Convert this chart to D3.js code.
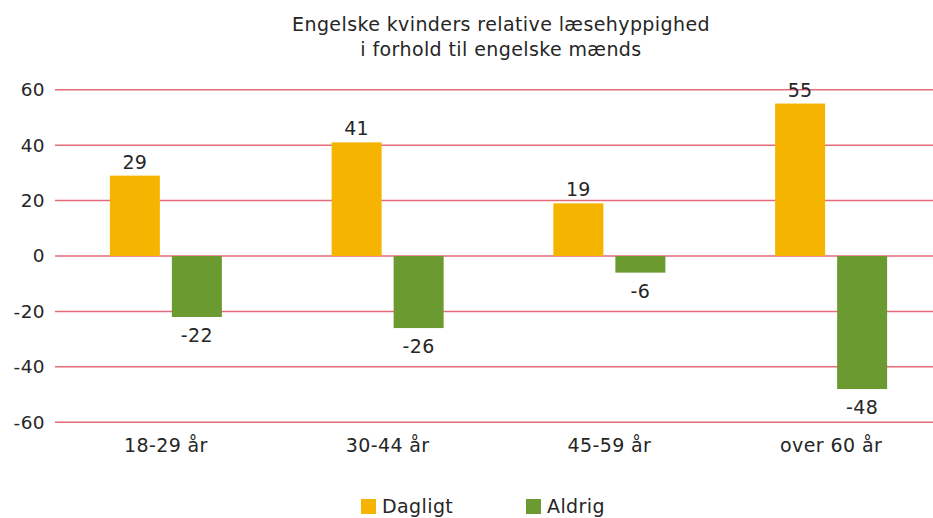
<!DOCTYPE html>
<html>
<head>
<meta charset="utf-8">
<script src="https://cdn.jsdelivr.net/npm/d3@7"></script>
<style>
  body { margin: 0; background: #fff; }
  text { font-family: "DejaVu Sans", sans-serif; fill: #262626; letter-spacing: 0.4px; }
</style>
</head>
<body>
<div id="chart"></div>
<script>
// Data
const categories = ["18-29 år", "30-44 år", "45-59 år", "over 60 år"];
const seriesNames = ["Dagligt", "Aldrig"];
const dagligt = [29, 41, 19, 55];
const aldrig = [-22, -26, -6, -48];
const yTicks = [-60, -40, -20, 0, 20, 40, 60];
const titleLines = ["Engelske kvinders relative læsehyppighed", "i forhold til engelske mænds"];

const colors = { "Dagligt": "#f5b400", "Aldrig": "#6a9a30" };
const font = "'DejaVu Sans', sans-serif";
const fmt = v => v < 0 ? "-" + Math.abs(v) : String(v);

const width = 933, height = 518;
const margin = { top: 90, right: -9, bottom: 96, left: 55 };

const svg = d3.select("#chart")
    .append("svg")
    .attr("width", width)
    .attr("height", height);

// Scales
const x = d3.scaleBand()
    .domain(categories)
    .range([margin.left, width - margin.right]);

const barW = 50, barGap = 12;
const x1 = d3.scaleOrdinal()
    .domain(seriesNames)
    .range([x.bandwidth() / 2 - barW - barGap / 2, x.bandwidth() / 2 + barGap / 2]);

const y = d3.scaleLinear()
    .domain([-60, 60])
    .range([height - margin.bottom + 0.3, margin.top - 0.3]);

// Grid lines
svg.append("g")
    .selectAll("line")
    .data(yTicks)
    .enter().append("line")
    .attr("x1", margin.left)
    .attr("x2", width)
    .attr("y1", d => y(d))
    .attr("y2", d => y(d))
    .attr("stroke", "#e36a78")
    .attr("stroke-width", 1.5);

// Y axis labels
const yAxis = svg.append("g")
    .attr("transform", `translate(${margin.left},0)`)
    .call(d3.axisLeft(y).tickValues(yTicks).tickFormat(fmt).tickSize(0).tickPadding(10));
yAxis.select(".domain").remove();
yAxis.selectAll("text")
    .style("font-family", font)
    .style("font-size", "18.5px")
    .attr("fill", "#262626");

// Bars
const rows = categories.map((c, i) => ({ cat: c, values: [
    { key: "Dagligt", value: dagligt[i] },
    { key: "Aldrig", value: aldrig[i] }
] }));

const groups = svg.append("g")
    .selectAll("g")
    .data(rows)
    .enter().append("g")
    .attr("transform", d => `translate(${x(d.cat)},0)`);

groups.selectAll("rect")
    .data(d => d.values)
    .enter().append("rect")
    .attr("x", d => x1(d.key))
    .attr("width", barW)
    .attr("y", d => y(Math.max(0, d.value)))
    .attr("height", d => Math.abs(y(d.value) - y(0)))
    .attr("fill", d => colors[d.key]);

// Value labels
groups.selectAll("text.val")
    .data(d => d.values)
    .enter().append("text")
    .attr("class", "val")
    .attr("x", d => x1(d.key) + barW / 2)
    .attr("y", d => d.value >= 0 ? y(d.value) - 7 : y(d.value) + 25)
    .attr("text-anchor", "middle")
    .style("font-size", "19px")
    .text(d => fmt(d.value));

// Category labels
const xAxis = svg.append("g")
    .attr("transform", `translate(0,${y(-60)})`)
    .call(d3.axisBottom(x).tickSize(0).tickPadding(16));
xAxis.select(".domain").remove();
xAxis.selectAll("text")
    .style("font-family", font)
    .style("font-size", "19px")
    .attr("fill", "#262626");

// Title
svg.append("text")
    .attr("x", 501)
    .attr("y", 31)
    .attr("text-anchor", "middle")
    .style("font-size", "19px")
    .selectAll("tspan")
    .data(titleLines)
    .enter().append("tspan")
    .attr("x", 501)
    .attr("dy", (d, i) => i === 0 ? 0 : 25)
    .text(d => d);

// Legend
const legendX = [361, 526];
const legend = svg.append("g")
    .selectAll("g")
    .data(seriesNames)
    .enter().append("g")
    .attr("transform", (d, i) => `translate(${legendX[i]},499)`);

legend.append("rect")
    .attr("width", 15)
    .attr("height", 15)
    .attr("fill", d => colors[d]);

legend.append("text")
    .attr("x", 21)
    .attr("y", 14)
    .style("font-size", "19px")
    .text(d => d);
</script>
</body>
</html>
